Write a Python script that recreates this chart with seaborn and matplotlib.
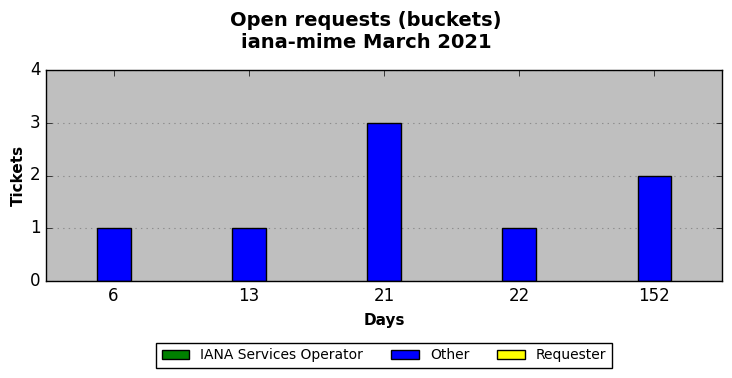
import matplotlib
matplotlib.use("Agg")
import matplotlib.pyplot as plt
import seaborn as sns
import pandas as pd

days = ["6", "13", "21", "22", "152"]
groups = ["IANA Services Operator", "Other", "Requester"]
iana = [0, 0, 0, 0, 0]
other = [1, 1, 3, 1, 2]
requester = [0, 0, 0, 0, 0]
colors = ["green", "blue", "yellow"]

rows = []
for g, vals in zip(groups, [iana, other, requester]):
    for d, v in zip(days, vals):
        rows.append({"Days": d, "Group": g, "Tickets": v})
df = pd.DataFrame(rows)

plt.style.use("classic")
plt.rcParams["font.family"] = ["DejaVu Sans"]

fig = plt.figure(figsize=(7.32, 3.78), dpi=100, facecolor="white")
ax = fig.add_axes([46 / 732, 1 - 281 / 378, 676 / 732, 211 / 378])
ax.set_facecolor("#bfbfbf")

sns.barplot(data=df, x="Days", y="Tickets", hue="Group", order=days,
            hue_order=groups, palette=colors, width=0.75, dodge=True,
            edgecolor="black", linewidth=1, saturation=1, errorbar=None,
            ax=ax, legend=True)

ax.set_xlim(-0.5, 4.5)
ax.set_ylim(0, 4)
ax.set_yticks([0, 1, 2, 3, 4])
ax.yaxis.grid(True, linestyle=":", color="#8c8c8c", linewidth=0.8)
ax.xaxis.grid(False)
ax.set_axisbelow(True)
ax.tick_params(axis="both", direction="in", labelsize=12, top=True, right=True)
ax.set_xlabel("Days", fontsize=11, fontweight="bold", labelpad=6)
ax.set_ylabel("Tickets", fontsize=11, fontweight="bold", labelpad=3)
fig.suptitle("Open requests (buckets)\niana-mime March 2021", fontsize=14,
             fontweight="bold", y=0.972)

leg = ax.legend(loc="upper center", bbox_to_anchor=(0.5, -0.26), ncol=3,
                fontsize=10, frameon=True, fancybox=False, handlelength=2,
                columnspacing=2)
leg.get_frame().set_edgecolor("black")
for h in leg.legend_handles:
    h.set_edgecolor("black")
    h.set_linewidth(1)

for p in ax.patches:
    if p.get_height() == 0:
        p.set_linewidth(0)

fig.savefig("out.png", dpi=100, facecolor="white")
